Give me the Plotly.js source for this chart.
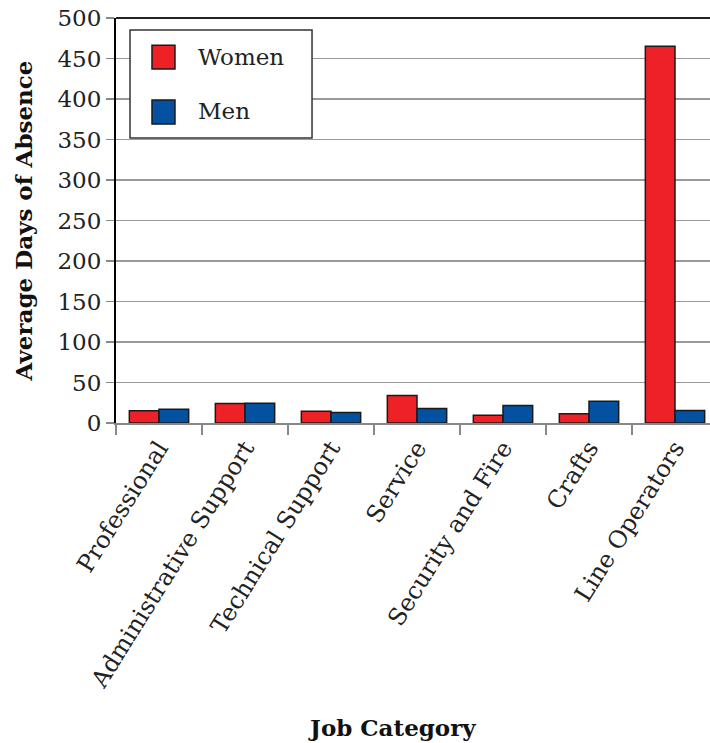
<!DOCTYPE html>
<html>
<head>
<meta charset="utf-8">
<script src="https://cdn.plot.ly/plotly-3.0.1.min.js"></script>
<style>html,body{margin:0;padding:0;background:#fff;}#chart{width:710px;height:743px;}</style>
</head>
<body>
<div id="chart"></div>
<script>
const categories = ["Professional", "Administrative Support", "Technical Support", "Service", "Security and Fire", "Crafts", "Line Operators"];
const women = [15, 24, 14.5, 34, 9.5, 11.5, 465];
const men = [17, 24.5, 13, 18, 21.5, 27, 15.5];
const seriesNames = ["Women", "Men"];
const yTicks = [0, 50, 100, 150, 200, 250, 300, 350, 400, 450, 500];

const RED = "#ED2126";
const BLUE = "#0351A0";
const EDGE = "#1a1a1a";
const FONT = "DejaVu Serif, Liberation Serif, serif";

const traces = [
  {type: "bar", name: seriesNames[0], x: categories, y: women,
   marker: {color: RED, line: {color: EDGE, width: 1.5}}, showlegend: false},
  {type: "bar", name: seriesNames[1], x: categories, y: men,
   marker: {color: BLUE, line: {color: EDGE, width: 1.5}}, showlegend: false}
];

const layout = {
  width: 710, height: 743,
  margin: {l: 116, r: 0, t: 18, b: 320},
  paper_bgcolor: "#fff", plot_bgcolor: "#fff",
  barmode: "group", bargap: 0.31, bargroupgap: 0,
  font: {family: FONT, color: "#222"},
  xaxis: {
    type: "category", range: [-0.5, 6.407],
    tickson: "boundaries", ticks: "outside", ticklen: 10,
    tickcolor: "#888", tickwidth: 1.5, tickangle: -58,
    tickfont: {size: 24, family: FONT, color: "#222"},
    showline: true, linecolor: "#888", linewidth: 1.5,
    showgrid: false, automargin: false
  },
  yaxis: {
    range: [0, 500], tickvals: yTicks, ticktext: yTicks.map(String),
    ticks: "outside", ticklen: 8, tickcolor: "#888", tickwidth: 1.5,
    tickfont: {size: 23, family: FONT, color: "#222"},
    showgrid: true, gridcolor: "#999", gridwidth: 1.5,
    showline: true, linecolor: "#000", linewidth: 2, zeroline: false,
    automargin: false,
    title: {text: "Average Days of Absence", standoff: 18,
            font: {size: 23, family: FONT, weight: "bold", color: "#111"}}
  },
  shapes: [
    {type: "line", xref: "paper", yref: "paper", x0: 0, x1: 1, y0: 1, y1: 1, line: {color: "#222", width: 2}},
    {type: "rect", xref: "paper", yref: "paper", x0: 0.0236, x1: 0.330, y0: 0.7037, y1: 0.9704,
     line: {color: "#333", width: 1.5}, fillcolor: "#fff", layer: "above"},
    {type: "rect", xref: "paper", yref: "paper", x0: 0.0606, x1: 0.0993, y0: 0.874, y1: 0.933,
     line: {color: EDGE, width: 1.5}, fillcolor: RED, layer: "above"},
    {type: "rect", xref: "paper", yref: "paper", x0: 0.0606, x1: 0.0993, y0: 0.738, y1: 0.7975,
     line: {color: EDGE, width: 1.5}, fillcolor: BLUE, layer: "above"}
  ],
  annotations: [
    {xref: "paper", yref: "paper", x: 0.135, y: 0.904, xanchor: "left", yanchor: "middle",
     text: seriesNames[0], showarrow: false, font: {size: 23, family: FONT, color: "#222"}},
    {xref: "paper", yref: "paper", x: 0.135, y: 0.770, xanchor: "left", yanchor: "middle",
     text: seriesNames[1], showarrow: false, font: {size: 23, family: FONT, color: "#222"}},
    {xref: "paper", yref: "paper", x: 0.465, y: -0.753, xanchor: "center", yanchor: "middle",
     text: "Job Category", showarrow: false, font: {size: 23, family: FONT, weight: "bold", color: "#111"}}
  ]
};

Plotly.newPlot("chart", traces, layout, {displayModeBar: false, staticPlot: true});
</script>
</body>
</html>
